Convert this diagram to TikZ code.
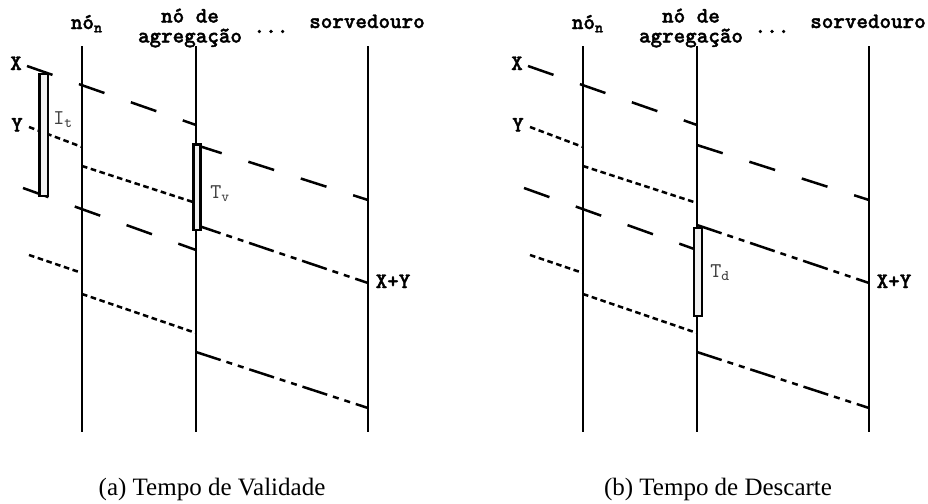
\documentclass[tikz,border=0pt]{standalone}
\usepackage{fontspec}
\setmainfont{Liberation Serif}
\newfontfamily\headfont{lmmonolt10-bold}[Extension=.otf, FakeBold=1.6]
\usetikzlibrary{positioning}

\begin{document}
\begin{tikzpicture}[
    x=0.5pt, y=-0.5pt,
    head/.style={font=\headfont\fontsize{11}{12}\selectfont, inner sep=0pt},
    tag/.style={font=\ttfamily\fontsize{10.5}{12}\selectfont, text=black!75, inner sep=0pt},
    subcap/.style={font=\fontsize{12.5}{15}\selectfont, inner sep=0pt},
    life/.style={line width=1.3pt},
    longdash/.style={line width=1.25pt, dash pattern=on 13.5pt off 14pt},
    shortdash/.style={line width=1.25pt, dash pattern=on 2.8pt off 1.8pt},
    dashdots/.style={line width=1.25pt, dash pattern=on 13pt off 3pt on 3pt off 3pt on 3pt off 3pt},
    bar/.style={line width=1.4pt, fill=black!6}
]
\useasboundingbox (0,0) rectangle (928,504);

% the two panels share headings, lifelines and messages
\foreach \s/\p in {0/a, 501/b} {
  \begin{scope}[shift={(\s,0)}]
    \node[head, anchor=base] (non\p) at (87,29) {nó\textsubscript{n}};
    \node[head, align=center] (agr\p) at (190,28) {nó de\\[-2pt]agregação};
    \node[head, anchor=base] (dots\p) at (271,33) {...};
    \node[head, anchor=base] (sink\p) at (367,28) {sorvedouro};
    \node[head, anchor=base] (lx\p) at (16,70) {X};
    \node[head, anchor=base] (ly\p) at (17,131.5) {Y};
    \node[head, anchor=base] (xy\p) at (393,288) {X+Y};

    % lifelines
    \foreach \l/\lx in {n/82, g/196, k/368} {
      \coordinate (\l top\p) at (\lx,46);
      \coordinate (\l bot\p) at (\lx,432);
      \draw[life] (\l top\p) -- (\l bot\p);
    }

    % messages
    \foreach \m/\st/\ax/\ay/\bx/\by in {
        xa/longdash/27/66/196/125, xb/longdash/196/145/368/200,
        ya/shortdash/29/127/82/147, yb/shortdash/82/166/196/203,
        ua/longdash/23/188/196/250,
        va/shortdash/29/255/82/273, vb/shortdash/82/294/196/333,
        sa/dashdots/196/225/368/283, sb/dashdots/196/352/368/408} {
      \coordinate (\m s\p) at (\ax,\ay);
      \coordinate (\m e\p) at (\bx,\by);
      \draw[\st] (\m s\p) -- (\m e\p);
    }
  \end{scope}
}

% intervals
\draw[bar] (39.5,74) rectangle (48,196);
\node[tag, anchor=base west] (it) at (53,124) {I\textsubscript{t}};
\draw[bar] (193.5,144.5) rectangle (200.5,230);
\node[tag, anchor=base west] (tv) at (210,198) {T\textsubscript{v}};
\draw[bar] (694,228) rectangle (702,316);
\node[tag, anchor=base west] (td) at (710,277) {T\textsubscript{d}};

\node[subcap, anchor=base] (capa) at (212,495) {(a) Tempo de Validade};
\node[subcap, anchor=base] (capb) at (718,495) {(b) Tempo de Descarte};
\end{tikzpicture}
\end{document}
